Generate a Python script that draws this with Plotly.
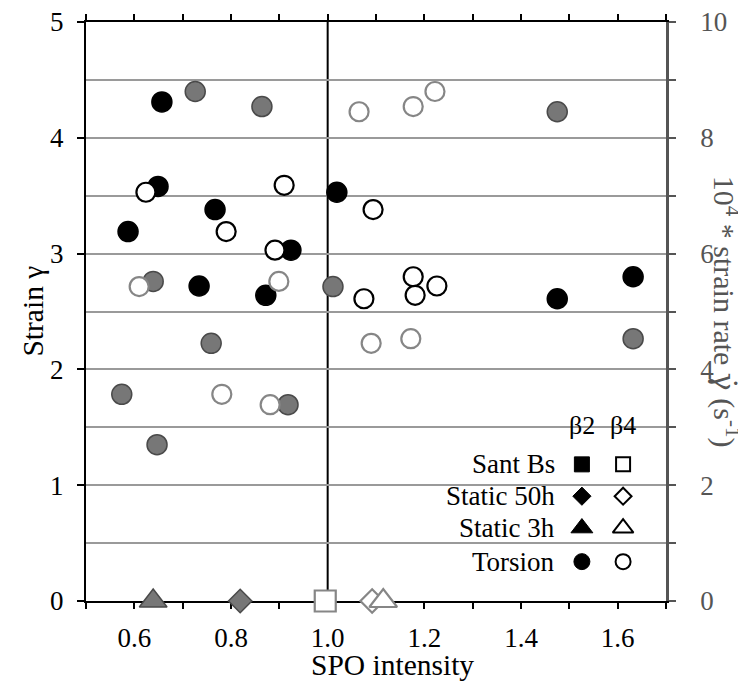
import plotly.graph_objects as go

# ---------------- data ----------------
# Torsion, strain (left axis)
spo_b2_torsion = [0.657, 0.649, 0.767, 0.587, 0.924, 0.734, 0.872, 1.019, 1.475, 1.632]
strain_b2_torsion = [4.31, 3.58, 3.38, 3.19, 3.03, 2.72, 2.64, 3.53, 2.61, 2.80]
spo_b4_torsion = [0.624, 0.910, 0.790, 0.891, 1.094, 1.177, 1.181, 1.226, 1.075]
strain_b4_torsion = [3.53, 3.59, 3.19, 3.03, 3.38, 2.80, 2.64, 2.72, 2.61]

# Torsion, 10^4 * strain rate (right axis)
spo_b2_rate = [0.726, 0.864, 0.639, 1.011, 1.475, 0.759, 0.574, 0.918, 0.647, 1.632]
rate_b2 = [8.80, 8.54, 5.52, 5.43, 8.45, 4.45, 3.57, 3.39, 2.70, 4.53]
spo_b4_rate = [0.610, 0.899, 1.065, 1.177, 1.222, 0.781, 0.881, 1.090, 1.172]
rate_b4 = [5.43, 5.52, 8.45, 8.54, 8.80, 3.57, 3.39, 4.45, 4.53]

# Undeformed / static samples (zero strain)
spo_static3h_b2 = [0.639]
spo_static50h_b2 = [0.819]
spo_santbs_b4 = [0.995]
spo_static50h_b4 = [1.092]
spo_static3h_b4 = [1.115]
zero_strain = [0.0]

x_tickvals = [0.5, 0.6, 0.7, 0.8, 0.9, 1.0, 1.1, 1.2, 1.3, 1.4, 1.5, 1.6, 1.7]
x_ticktext = ["", "0.6", "", "0.8", "", "1.0", "", "1.2", "", "1.4", "", "1.6", ""]
y_tickvals = [0, 1, 2, 3, 4, 5]
y2_tickvals = [0, 1, 2, 3, 4, 5, 6, 7, 8, 9, 10]
y2_ticktext = ["0", "", "2", "", "4", "", "6", "", "8", "", "10"]

legend_rows = ["Sant Bs", "Static 50h", "Static 3h", "Torsion"]
legend_symbols = ["square", "diamond", "triangle-up", "circle"]
legend_headers = ["β2", "β4"]

# ---------------- style ----------------
FONT = "Liberation Serif"
GRAY_FILL = "#777777"
GRAY_EDGE = "#4a4a4a"
GRAY_OPEN = "#868686"
AXIS_GRAY = "#555555"

fig = go.Figure()

# strain (left axis) - drawn first
fig.add_trace(go.Scatter(x=spo_b2_torsion, y=strain_b2_torsion, mode="markers", yaxis="y",
                         marker=dict(symbol="circle", size=20, color="black",
                                     line=dict(color="black", width=1.5))))
fig.add_trace(go.Scatter(x=spo_b4_torsion, y=strain_b4_torsion, mode="markers", yaxis="y",
                         marker=dict(symbol="circle", size=19, color="white",
                                     line=dict(color="black", width=2.2))))

# strain rate (right axis)
fig.add_trace(go.Scatter(x=spo_b2_rate, y=rate_b2, mode="markers", yaxis="y2",
                         marker=dict(symbol="circle", size=20, color=GRAY_FILL,
                                     line=dict(color=GRAY_EDGE, width=1.5))))
fig.add_trace(go.Scatter(x=spo_b4_rate, y=rate_b4, mode="markers", yaxis="y2",
                         marker=dict(symbol="circle", size=19, color="white",
                                     line=dict(color=GRAY_OPEN, width=2.2))))

# zero strain samples
fig.add_trace(go.Scatter(x=spo_static3h_b2, y=zero_strain, mode="markers", yaxis="y2", cliponaxis=False,
                         marker=dict(symbol="triangle-up", size=24, color=GRAY_FILL,
                                     line=dict(color=GRAY_EDGE, width=1.5))))
fig.add_trace(go.Scatter(x=spo_static50h_b2, y=zero_strain, mode="markers", yaxis="y2", cliponaxis=False,
                         marker=dict(symbol="diamond", size=18, color=GRAY_FILL,
                                     line=dict(color=GRAY_EDGE, width=1.5))))
fig.add_trace(go.Scatter(x=spo_santbs_b4, y=zero_strain, mode="markers", yaxis="y2", cliponaxis=False,
                         marker=dict(symbol="square", size=21, color="white",
                                     line=dict(color=GRAY_OPEN, width=2.2))))
fig.add_trace(go.Scatter(x=spo_static50h_b4, y=zero_strain, mode="markers", yaxis="y2", cliponaxis=False,
                         marker=dict(symbol="diamond", size=18, color="white",
                                     line=dict(color=GRAY_OPEN, width=2.2))))
fig.add_trace(go.Scatter(x=spo_static3h_b4, y=zero_strain, mode="markers", yaxis="y2", cliponaxis=False,
                         marker=dict(symbol="triangle-up", size=24, color="white",
                                     line=dict(color=GRAY_OPEN, width=2.2))))

# ---------------- custom legend (overlay axes 0..1) ----------------
leg_col_x = [0.855, 0.926]
leg_row_y = [0.236, 0.181, 0.126, 0.068]
leg_sizes = {"square": 15, "diamond": 14, "triangle-up": 19, "circle": 16}
for sym, ry in zip(legend_symbols, leg_row_y):
    fig.add_trace(go.Scatter(x=[leg_col_x[0]], y=[ry], xaxis="x3", yaxis="y3", mode="markers",
                             marker=dict(symbol=sym, size=leg_sizes[sym], color="black",
                                         line=dict(color="black", width=1))))
    fig.add_trace(go.Scatter(x=[leg_col_x[1]], y=[ry], xaxis="x3", yaxis="y3", mode="markers",
                             marker=dict(symbol=sym, size=leg_sizes[sym] - 1, color="white",
                                         line=dict(color="black", width=2))))

annotations = []
for name, ry in zip(legend_rows, leg_row_y):
    annotations.append(dict(x=0.812, y=ry, xref="paper", yref="paper", text=name, showarrow=False,
                            xanchor="right", yanchor="middle",
                            font=dict(family=FONT, size=27, color="black")))
for hdr, cx in zip(legend_headers, leg_col_x):
    annotations.append(dict(x=cx, y=0.303, xref="paper", yref="paper", text=hdr, showarrow=False,
                            xanchor="center", yanchor="middle",
                            font=dict(family=FONT, size=26, color="black")))

# axis titles
annotations.append(dict(x=-0.093, y=0.5, xref="paper", yref="paper", text="Strain γ", showarrow=False,
                        textangle=-90, xanchor="center", yanchor="middle",
                        font=dict(family=FONT, size=29.5, color="black")))
annotations.append(dict(x=1.103, y=0.5, xref="paper", yref="paper",
                        text="10<sup>4</sup> * strain rate <span style=\"font-family:'DejaVu Serif'\">γ̇</span> (s<sup>-1</sup>)",
                        showarrow=False,
                        textangle=90, xanchor="center", yanchor="middle",
                        font=dict(family=FONT, size=30, color=AXIS_GRAY)))
annotations.append(dict(x=0.528, y=-0.11, xref="paper", yref="paper", text="SPO intensity", showarrow=False,
                        xanchor="center", yanchor="middle",
                        font=dict(family=FONT, size=29.5, color="black")))

shapes = [
    dict(type="line", xref="x", yref="paper", x0=1.0, x1=1.0, y0=0, y1=1,
         line=dict(color="black", width=2), layer="between"),
    dict(type="rect", xref="paper", yref="paper", x0=0.616, x1=0.955, y0=0.01, y1=0.34,
         fillcolor="white", line=dict(width=0), layer="between"),
]

# the page body adds an 8px offset, so the figure is 8px smaller and margins shifted
fig.update_layout(
    width=738, height=676,
    margin=dict(l=78, r=80, t=14, b=83, autoexpand=False),
    paper_bgcolor="white", plot_bgcolor="white",
    showlegend=False,
    font=dict(family=FONT, size=27, color="black"),
    xaxis=dict(range=[0.5, 1.7], tickvals=x_tickvals, ticktext=x_ticktext,
               ticks="outside", ticklen=6, tickwidth=2, tickcolor="black",
               showline=True, linecolor="black", linewidth=2, mirror="ticks",
               showgrid=False, zeroline=False, layer="below traces",
               ticklabelstandoff=6, automargin=False, ticklabeloverflow="allow",
               tickfont=dict(family=FONT, size=27, color="black")),
    yaxis=dict(range=[0, 5], tickvals=y_tickvals,
               ticks="outside", ticklen=7, tickwidth=2, tickcolor="black",
               showline=True, linecolor="black", linewidth=2,
               showgrid=False, zeroline=False, layer="below traces",
               ticklabelstandoff=8, automargin=False, ticklabeloverflow="allow",
               tickfont=dict(family=FONT, size=27, color="black")),
    yaxis2=dict(range=[0, 10], overlaying="y", side="right", anchor="x",
                tickvals=y2_tickvals, ticktext=y2_ticktext,
                ticks="outside", ticklen=7, tickwidth=2, tickcolor=AXIS_GRAY,
                showline=True, linecolor=AXIS_GRAY, linewidth=2.5,
                showgrid=True, gridcolor="#9a9a9a", gridwidth=2, zeroline=False,
                layer="below traces", ticklabelstandoff=19, automargin=False,
                ticklabeloverflow="allow",
                tickfont=dict(family=FONT, size=27, color=AXIS_GRAY)),
    xaxis3=dict(range=[0, 1], overlaying="x", anchor="y3", visible=False, fixedrange=True),
    yaxis3=dict(range=[0, 1], overlaying="y", anchor="x3", visible=False, fixedrange=True),
    annotations=annotations,
    shapes=shapes,
)

fig.write_html("out.html")
